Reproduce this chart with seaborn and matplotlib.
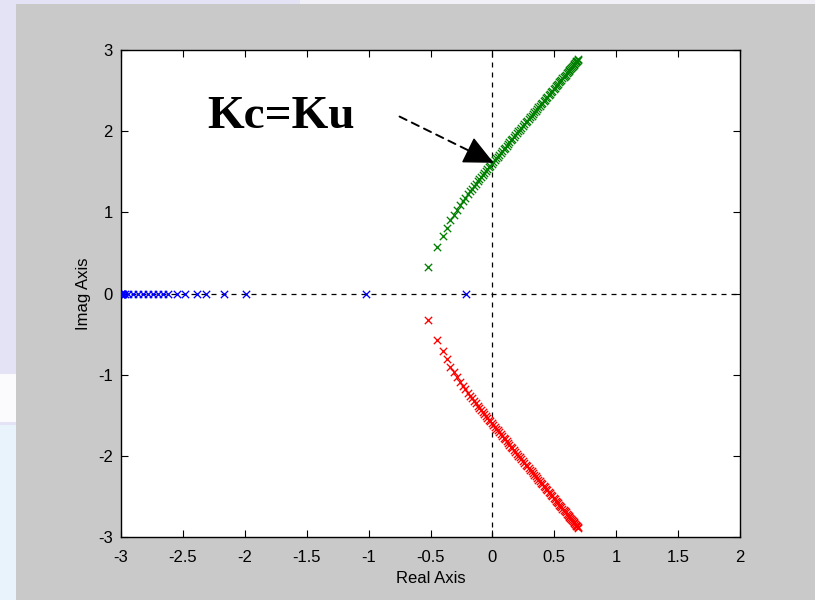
import matplotlib
matplotlib.use("Agg")
import matplotlib.pyplot as plt
from matplotlib.patches import Rectangle
import seaborn as sns

# ---- data ----
blue_re = [-3.0, -3.0, -2.997, -2.993, -2.988, -2.98, -2.97, -2.945, -2.90, -2.86,
           -2.82, -2.78, -2.74, -2.70, -2.66, -2.62, -2.55, -2.48, -2.39, -2.31,
           -2.17, -1.99, -1.02, -0.21]
blue_im = [0.0] * len(blue_re)

green_re = [-0.52, -0.45, -0.40, -0.37, -0.34, -0.31, -0.285, -0.26, -0.24, -0.22,
            -0.20, -0.18, -0.165, -0.15, -0.135, -0.12, -0.105, -0.09, -0.077, -0.064,
            -0.052, -0.04, -0.028, -0.016, -0.005,
            0.006, 0.018, 0.030, 0.042, 0.054, 0.066, 0.078, 0.090, 0.102, 0.114,
            0.126, 0.138, 0.150, 0.162, 0.174, 0.186, 0.198, 0.210, 0.222, 0.234,
            0.246, 0.258, 0.270, 0.282, 0.294, 0.305, 0.316, 0.327, 0.338, 0.349,
            0.360, 0.371, 0.382, 0.393, 0.404, 0.414, 0.424, 0.434, 0.444, 0.454,
            0.464, 0.474, 0.484, 0.494, 0.503, 0.512, 0.521, 0.530, 0.539, 0.548,
            0.557, 0.566, 0.575, 0.583, 0.591, 0.599, 0.607, 0.615, 0.622, 0.629,
            0.636, 0.643, 0.650, 0.656, 0.662, 0.668, 0.674, 0.679, 0.684, 0.689, 0.693]
green_im = [0.33, 0.57, 0.71, 0.81, 0.90, 0.97, 1.03, 1.09, 1.14, 1.18,
            1.22, 1.26, 1.29, 1.32, 1.35, 1.38, 1.41, 1.44, 1.46, 1.49,
            1.51, 1.53, 1.555, 1.575, 1.595,
            1.621, 1.643, 1.665, 1.687, 1.709, 1.731, 1.754, 1.776, 1.798, 1.820,
            1.842, 1.864, 1.886, 1.908, 1.930, 1.952, 1.974, 1.996, 2.018, 2.041,
            2.063, 2.085, 2.107, 2.129, 2.151, 2.171, 2.191, 2.212, 2.232, 2.252,
            2.272, 2.293, 2.313, 2.333, 2.353, 2.372, 2.390, 2.409, 2.427, 2.445,
            2.464, 2.482, 2.501, 2.519, 2.536, 2.552, 2.569, 2.585, 2.602, 2.618,
            2.635, 2.651, 2.668, 2.683, 2.697, 2.712, 2.727, 2.742, 2.754, 2.767,
            2.780, 2.793, 2.806, 2.817, 2.828, 2.839, 2.850, 2.859, 2.869, 2.878, 2.885]
# lower branch is the complex conjugate of the upper branch
red_re = list(green_re)
red_im = [-v for v in green_im]

x_ticks = [-3, -2.5, -2, -1.5, -1, -0.5, 0, 0.5, 1, 1.5, 2]
x_labels = ["-3", "-2.5", "-2", "-1.5", "-1", "-0.5", "0", "0.5", "1", "1.5", "2"]
y_ticks = [-3, -2, -1, 0, 1, 2, 3]
y_labels = ["-3", "-2", "-1", "0", "1", "2", "3"]

# ---- figure ----
sns.set_style("ticks")
plt.rcParams["font.family"] = ["Liberation Sans", "DejaVu Sans"]
plt.rcParams["text.color"] = "black"
plt.rcParams["axes.labelcolor"] = "black"

fig = plt.figure(figsize=(8.15, 6.0), dpi=100)
fig.patch.set_facecolor("#e3e3f5")
W, H = 815.0, 600.0
# slide background pieces on the left strip
fig.add_artist(Rectangle((0, 0), 16 / W, (600 - 425) / H, transform=fig.transFigure,
                         facecolor="#e8f3fc", edgecolor="none", zorder=-3))
fig.add_artist(Rectangle((0, (600 - 422) / H), 16 / W, 48 / H, transform=fig.transFigure,
                         facecolor="#fbfbfd", edgecolor="none", zorder=-3))
fig.add_artist(Rectangle((300 / W, (600 - 4) / H), (815 - 300) / W, 4 / H,
                         transform=fig.transFigure, facecolor="#f0f0f6",
                         edgecolor="none", zorder=-3))
# grey MATLAB figure window
fig.add_artist(Rectangle((16 / W, 0), (815 - 16) / W, (600 - 4) / H, transform=fig.transFigure,
                         facecolor="#c8c9c8", edgecolor="none", zorder=-2))

ax = fig.add_axes([121 / W, 1 - 537 / H, (740 - 121) / W, (537 - 50) / H])
ax.set_facecolor("white")

ax.axhline(0, color="black", ls=(0, (4, 4)), lw=0.9, zorder=1)
ax.axvline(0, color="black", ls=(0, (4, 4)), lw=0.9, zorder=1)

kw = dict(marker="x", s=28, linewidth=0.95, legend=False, zorder=3)
sns.scatterplot(x=blue_re, y=blue_im, color="#0000ff", ax=ax, **kw)
sns.scatterplot(x=green_re, y=green_im, color="#008000", ax=ax, **kw)
sns.scatterplot(x=red_re, y=red_im, color="#ff0000", ax=ax, **kw)

ax.set_xlim(-3, 2)
ax.set_ylim(-3, 3)
ax.set_xticks(x_ticks)
ax.set_xticklabels(x_labels)
ax.set_yticks(y_ticks)
ax.set_yticklabels(y_labels)
ax.tick_params(direction="in", top=True, right=True, length=5, width=0.8,
               labelsize=12, colors="black")
ax.tick_params(axis="x", pad=9)
ax.tick_params(axis="y", pad=6)
for sp in ax.spines.values():
    sp.set_visible(True)
    sp.set_color("black")
    sp.set_linewidth(1.0)

ax.set_xlabel("Real Axis", fontsize=12, labelpad=5, color="black")
ax.set_ylabel("Imag Axis", fontsize=12, labelpad=5, color="black")

ax.text(-1.71, 2.04, "Kc=Ku", ha="center", va="baseline", fontsize=34,
        fontweight="bold", color="black",
        family=["Liberation Serif", "DejaVu Serif"], zorder=5)
ax.annotate("", xy=(0.01, 1.61), xytext=(-0.75, 2.18),
            arrowprops=dict(arrowstyle="-", ls=(0, (4, 3)), lw=1.4, color="black",
                            shrinkA=0, shrinkB=14), zorder=5)
ax.annotate("", xy=(0.01, 1.61), xytext=(-0.13, 1.715),
            arrowprops=dict(arrowstyle="-|>,head_length=0.95,head_width=0.45",
                            lw=1.0, color="black", mutation_scale=20,
                            shrinkA=0, shrinkB=0), zorder=5)

fig.savefig("out.png", dpi=100, facecolor=fig.get_facecolor())
